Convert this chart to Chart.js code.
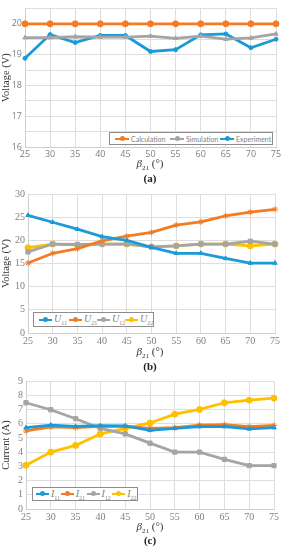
<!DOCTYPE html>
<html>
<head>
<meta charset="utf-8">
<script src="https://cdn.jsdelivr.net/npm/chart.js@4"></script>
<style>
  body { margin: 0; background: #fff; width: 286px; height: 550px; position: relative; overflow: hidden; }
  .box { position: absolute; left: 0; width: 286px; }
  .xtitle, .panel { position: absolute; font-family: "Liberation Serif", serif; color: #333; white-space: nowrap; transform: translateX(-50%); }
  .xtitle { font-size: 11px; }
  .xtitle sub { font-size: 7px; }
  .panel { font-size: 11px; font-weight: bold; color: #222; }
  .legend { position: absolute; border: 1px solid #8c8c8c; background: #fff; display: flex; align-items: center; white-space: nowrap; box-sizing: border-box; }
  .legend .item { display: flex; align-items: center; }
  .legend .swatch { position: relative; height: 2px; margin-right: 2px; flex: none; }
  .legend .swatch i { position: absolute; top: -2px; width: 5px; height: 5px; border-radius: 50%; }
  .legA { font-family: "Lato", sans-serif; font-size: 7px; color: #7f7f7f; }
  .legA .swatch { width: 14px; }
  .legA .swatch i { left: 4.5px; }
  .legB { font-family: "Liberation Serif", serif; font-size: 10px; color: #7f7f7f; font-style: italic; }
  .legB .swatch { width: 13px; }
  .legB .swatch i { left: 4px; }
  .legB sub { font-size: 6px; font-style: normal; }
</style>
</head>
<body>
<div class="box" style="top:0px"><canvas id="chartA" width="286" height="160"></canvas></div>
<div class="box" style="top:185px"><canvas id="chartB" width="286" height="161"></canvas></div>
<div class="box" style="top:372px"><canvas id="chartC" width="286" height="150"></canvas></div>

<div class="legend legA" style="left:109px;top:132px;width:164px;height:13px;padding-left:5px" id="legendA"></div>
<div class="legend legB" style="left:33px;top:312px;width:121px;height:15px;padding-left:5px" id="legendB"></div>
<div class="legend legB" style="left:32px;top:487px;width:106px;height:14px;padding-left:3px" id="legendC"></div>

<div class="xtitle" style="left:150px;top:157px"><i>β</i><sub>21</sub> (°)</div>
<div class="panel" style="left:150px;top:172px">(a)</div>
<div class="xtitle" style="left:150px;top:345px"><i>β</i><sub>21</sub> (°)</div>
<div class="panel" style="left:150px;top:360px">(b)</div>
<div class="xtitle" style="left:150px;top:520px"><i>β</i><sub>21</sub> (°)</div>
<div class="panel" style="left:150px;top:534px">(c)</div>

<script>
// angle beta21 in degrees
const betaAngles = [25, 30, 35, 40, 45, 50, 55, 60, 65, 70, 75];

// (a) output voltage
const calcVoltage = [20, 20, 20, 20, 20, 20, 20, 20, 20, 20, 20];
const simVoltage = [19.55, 19.55, 19.58, 19.57, 19.57, 19.6, 19.53, 19.6, 19.5, 19.54, 19.67];
const expVoltage = [18.88, 19.65, 19.39, 19.62, 19.62, 19.1, 19.16, 19.64, 19.67, 19.22, 19.5];

// (b) voltages
const u11 = [25.4, 23.9, 22.4, 20.8, 20.0, 18.5, 17.2, 17.2, 16.1, 15.1, 15.1];
const u21 = [15.1, 17.2, 18.2, 19.9, 20.9, 21.7, 23.3, 24.0, 25.3, 26.1, 26.7];
const u12 = [17.5, 19.2, 19.1, 19.2, 19.2, 18.6, 18.8, 19.2, 19.2, 19.8, 19.2];
const u22 = [18.4, 19.2, 19.0, 19.2, 19.2, 18.6, 18.8, 19.2, 19.2, 18.8, 19.2];

// (c) currents
const i11 = [5.72, 5.9, 5.81, 5.86, 5.84, 5.53, 5.67, 5.79, 5.79, 5.63, 5.72];
const i21 = [5.49, 5.77, 5.72, 5.81, 5.81, 5.67, 5.72, 5.9, 5.93, 5.79, 5.88];
const i12 = [7.47, 6.98, 6.35, 5.67, 5.28, 4.63, 4.0, 4.0, 3.49, 3.05, 3.05];
const i22 = [3.07, 4.0, 4.47, 5.28, 5.67, 6.05, 6.67, 7.0, 7.47, 7.65, 7.79];

const BLUE = '#1b9ad8';
const ORANGE = '#f47b22';
const GRAY = '#a5a5a5';
const YELLOW = '#ffc000';

function serie(label, data, color, pointStyle, radius) {
    return {
        label: label,
        data: data,
        borderColor: color,
        backgroundColor: color,
        borderWidth: 2.8,
        pointStyle: pointStyle,
        pointRadius: radius,
        pointBorderWidth: 1,
        tension: 0
    };
}

function makeChart(id, datasets, yOpts, yWidth, padRight, padTop, tickFont, titleFont) {
    return new Chart(document.getElementById(id), {
        type: 'line',
        data: { labels: betaAngles, datasets: datasets },
        options: {
            responsive: false,
            animation: false,
            devicePixelRatio: 1,
            layout: { padding: { left: 0, right: padRight, top: padTop, bottom: 1 } },
            plugins: { legend: { display: false }, tooltip: { enabled: false } },
            scales: {
                x: {
                    offset: false,
                    grid: { color: '#dedede', drawTicks: false },
                    border: { color: '#cfcfcf' },
                    ticks: { color: '#7f7f7f', font: tickFont, padding: 2, maxRotation: 0, autoSkip: false },
                    afterFit: s => { s.height = 12; }
                },
                y: Object.assign({
                    grid: { color: '#dedede', drawTicks: false },
                    border: { color: '#cfcfcf' },
                    title: { display: true, text: yOpts.title, color: '#333', font: titleFont, padding: 0 },
                    afterFit: s => { s.width = yWidth; }
                }, yOpts.scale)
            }
        }
    });
}

const serif = { family: 'Liberation Serif', size: 10 };
const sans = { family: 'Open Sans', size: 9 };
const titleSerif = { family: 'Liberation Serif', size: 10.5 };

makeChart('chartA', [
    serie('Calculation', calcVoltage, ORANGE, 'circle', 3),
    serie('Simulation', simVoltage, GRAY, 'triangle', 2.5),
    serie('Experiment', expVoltage, BLUE, 'circle', 2)
], {
    title: 'Voltage (V)',
    scale: {
        min: 16, max: 20.5,
        ticks: { stepSize: 0.5, color: '#7f7f7f', font: sans, padding: 3, autoSkip: false,
                 callback: v => Number.isInteger(v) ? v : '' }
    }
}, 25, 10, 5, sans, titleSerif);

makeChart('chartB', [
    serie('U11', u11, BLUE, 'triangle', 2.5),
    serie('U21', u21, ORANGE, 'star', 3),
    serie('U12', u12, GRAY, 'rect', 3),
    serie('U22', u22, YELLOW, 'circle', 3)
], {
    title: 'Voltage (V)',
    scale: {
        min: 0, max: 30,
        ticks: { stepSize: 5, color: '#7f7f7f', font: serif, padding: 3, autoSkip: false }
    }
}, 28, 11, 3, serif, titleSerif);

makeChart('chartC', [
    serie('I11', i11, BLUE, 'triangle', 2.5),
    serie('I21', i21, ORANGE, 'star', 3),
    serie('I12', i12, GRAY, 'rect', 3),
    serie('I22', i22, YELLOW, 'circle', 3)
], {
    title: 'Current (A)',
    scale: {
        min: 0, max: 9,
        ticks: { stepSize: 1, color: '#7f7f7f', font: serif, padding: 3, autoSkip: false }
    }
}, 26, 12, 3, serif, titleSerif);

// legends sit inside the plot, done in html
function fillLegend(id, items, itemWidth) {
    const el = document.getElementById(id);
    items.forEach(([html, color], k) => {
        const it = document.createElement('span');
        it.className = 'item';
        if (itemWidth) it.style.width = itemWidth[k] + 'px';
        it.innerHTML = '<span class="swatch" style="background:' + color + '"><i style="background:' + color + '"></i></span><span>' + html + '</span>';
        el.appendChild(it);
    });
}

fillLegend('legendA', [['Calculation', ORANGE], ['Simulation', GRAY], ['Experiment', BLUE]], [55, 50, 52]);
fillLegend('legendB', [['U<sub>11</sub>', BLUE], ['U<sub>21</sub>', ORANGE], ['U<sub>12</sub>', GRAY], ['U<sub>22</sub>', YELLOW]], [33, 28, 28, 28]);
fillLegend('legendC', [['I<sub>11</sub>', BLUE], ['I<sub>21</sub>', ORANGE], ['I<sub>12</sub>', GRAY], ['I<sub>22</sub>', YELLOW]], [25, 26, 26, 25]);
</script>
</body>
</html>
